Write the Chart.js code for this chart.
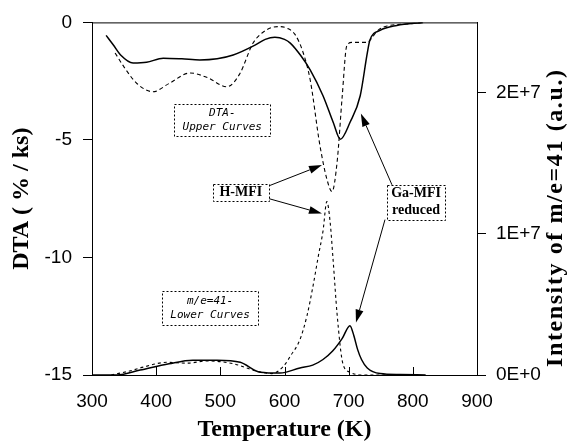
<!DOCTYPE html>
<html>
<head>
<meta charset="utf-8">
<script src="https://cdn.jsdelivr.net/npm/chart.js@4"></script>
<style>
  body { margin: 0; background: #fff; }
</style>
</head>
<body>
<canvas id="dtaChart" width="575" height="442"></canvas>
<script>
// DTA curves (left axis, % / ks)
const dtaGaTemp = [322, 333, 345, 364, 385, 411, 440, 468, 495, 520, 554, 570, 585, 600, 609, 625, 640, 660, 676, 687, 702, 718, 729, 733, 749, 775, 816];
const dtaGaVal = [-0.55, -0.95, -1.4, -1.73, -1.7, -1.52, -1.55, -1.6, -1.55, -1.39, -0.97, -0.72, -0.63, -0.72, -0.88, -1.4, -2.02, -3.12, -4.26, -4.97, -4.26, -3.12, -1.31, -0.76, -0.34, -0.13, 0.0];

const dtaHTemp = [336, 350, 370, 395, 420, 453, 480, 510, 530, 551, 565, 580, 592, 605, 616, 628, 640, 655, 666, 674, 682, 690, 697, 705, 729, 736, 744, 760, 790, 816];
const dtaHVal = [-1.3, -1.9, -2.6, -2.95, -2.6, -2.15, -2.35, -2.74, -2.2, -0.88, -0.45, -0.22, -0.18, -0.26, -0.5, -1.2, -2.44, -5.2, -6.66, -7.2, -5.94, -3.12, -1.0, -0.85, -0.85, -0.67, -0.38, -0.15, -0.07, 0.0];

// m/e=41 intensity (right axis, a.u.)
const msGaTemp = [300, 339, 375, 420, 457, 495, 531, 562, 593, 624, 644, 660, 675, 690, 702, 708, 714, 720, 729, 749, 780, 820];
const msGaVal = [0, 0, 3.5e5, 8e5, 1.05e6, 1.05e6, 9e5, 2e5, 1.4e5, 5e5, 7e5, 1.1e6, 1.7e6, 2.6e6, 3.5e6, 2.8e6, 1.8e6, 1.1e6, 5e5, 1e5, 3e4, 0];

const msHTemp = [330, 360, 380, 417, 448, 480, 520, 555, 580, 598, 610, 624, 635, 644, 653, 660, 666, 671, 676, 682, 691, 702, 720, 760];
const msHVal = [0, 3e5, 5.6e5, 9e5, 8.4e5, 1e6, 8e5, 3e5, 1e5, 6e5, 1.4e6, 2.5e6, 4.2e6, 6.2e6, 8.5e6, 1.02e7, 1.23e7, 1.09e7, 8e6, 4.3e6, 8e5, 2e5, 0, 0];

const xTicks = [300, 400, 500, 600, 700, 800, 900];
const leftTicks = [-15, -10, -5, 0];
const rightTicks = [0, 1e7, 2e7];

function pts(ts, vs) { return ts.map((t, i) => ({x: t, y: vs[i]})); }

const tickFont = {family: '"Liberation Sans", Arial, sans-serif', size: 19};
const titleFont = {family: '"Liberation Serif", "Times New Roman", serif', size: 24, weight: 'bold', lineHeight: 1};

// text boxes and arrows, placed in data units (temperature, DTA value)
const boxNotes = [
  {t: 503, v: -4.17, w: 96, h: 32, lines: ['DTA-', 'Upper Curves'], font: 'italic 11px "DejaVu Sans Mono"', lh: 14},
  {t: 484, v: -12.14, w: 96, h: 34, lines: ['m/e=41-', 'Lower Curves'], font: 'italic 11px "DejaVu Sans Mono"', lh: 14},
  {t: 532, v: -7.23, w: 56, h: 17, lines: ['H-MFI'], font: 'bold 14px "Liberation Serif"', lh: 16},
  {t: 805, v: -7.65, w: 58, h: 35, lines: ['Ga-MFI', 'reduced'], font: 'bold 14px "Liberation Serif"', lh: 17}
];
const arrowNotes = [
  [576, -6.95, 658.4, -6.07],
  [576, -7.5, 658.4, -8.13],
  [767.5, -6.91, 719, -3.88],
  [756.6, -8.39, 711.4, -12.77]
];

const notesPlugin = {
  id: 'notes',
  afterDraw(chart) {
    const {ctx, chartArea: a} = chart;
    const x = chart.scales.x, y = chart.scales.y;
    ctx.save();
    ctx.strokeStyle = '#000';
    ctx.fillStyle = '#000';
    ctx.lineWidth = 1;
    // top frame
    ctx.beginPath();
    ctx.moveTo(a.left, a.top + 0.5);
    ctx.lineTo(a.right, a.top + 0.5);
    ctx.stroke();
    // x ticks point inwards
    xTicks.forEach(t => {
      const px = Math.round(x.getPixelForValue(t)) + 0.5;
      ctx.beginPath();
      ctx.moveTo(px, a.bottom);
      ctx.lineTo(px, a.bottom - 8);
      ctx.stroke();
    });
    // boxes
    boxNotes.forEach(b => {
      const cx = x.getPixelForValue(b.t), cy = y.getPixelForValue(b.v);
      const l = Math.round(cx - b.w / 2) + 0.5, tp = Math.round(cy - b.h / 2) + 0.5;
      ctx.setLineDash([2, 2]);
      ctx.strokeRect(l, tp, b.w, b.h);
      ctx.setLineDash([]);
      ctx.font = b.font;
      ctx.textAlign = 'center';
      ctx.textBaseline = 'middle';
      const y0 = cy - (b.lines.length - 1) * b.lh / 2;
      b.lines.forEach((s, i) => ctx.fillText(s, cx, y0 + i * b.lh));
    });
    // arrows
    arrowNotes.forEach(([t0, v0, t1, v1]) => {
      const x0 = x.getPixelForValue(t0), y0 = y.getPixelForValue(v0);
      const x1 = x.getPixelForValue(t1), y1 = y.getPixelForValue(v1);
      const ang = Math.atan2(y1 - y0, x1 - x0);
      const hl = 13, hw = 4;
      ctx.beginPath();
      ctx.moveTo(x0, y0);
      ctx.lineTo(x1 - hl * Math.cos(ang), y1 - hl * Math.sin(ang));
      ctx.stroke();
      ctx.beginPath();
      ctx.moveTo(x1, y1);
      ctx.lineTo(x1 - hl * Math.cos(ang) + hw * Math.sin(ang), y1 - hl * Math.sin(ang) - hw * Math.cos(ang));
      ctx.lineTo(x1 - hl * Math.cos(ang) - hw * Math.sin(ang), y1 - hl * Math.sin(ang) + hw * Math.cos(ang));
      ctx.closePath();
      ctx.fill();
    });
    // right axis title, reads bottom to top, spaced out a little like the original
    const r = chart.scales.y2;
    ctx.translate(r.right - 19, (a.top + a.bottom) / 2 + 19);
    ctx.rotate(-Math.PI / 2);
    ctx.font = 'bold 24px "Liberation Serif"';
    ctx.letterSpacing = '1.6px';
    ctx.textAlign = 'center';
    ctx.textBaseline = 'middle';
    ctx.fillText('Intensity of m/e=41 (a.u.)', 0, 0);
    ctx.restore();
  }
};

const lineBase = {
  borderColor: '#000',
  pointRadius: 0,
  fill: false,
  cubicInterpolationMode: 'monotone'
};

new Chart(document.getElementById('dtaChart'), {
  type: 'line',
  data: {
    datasets: [
      Object.assign({label: 'DTA Ga-MFI reduced', data: pts(dtaGaTemp, dtaGaVal), yAxisID: 'y', borderWidth: 1.5}, lineBase),
      Object.assign({label: 'DTA H-MFI', data: pts(dtaHTemp, dtaHVal), yAxisID: 'y', borderWidth: 1.1, borderDash: [4, 3]}, lineBase),
      Object.assign({label: 'm/e=41 Ga-MFI reduced', data: pts(msGaTemp, msGaVal), yAxisID: 'y2', borderWidth: 1.5}, lineBase),
      Object.assign({label: 'm/e=41 H-MFI', data: pts(msHTemp, msHVal), yAxisID: 'y2', borderWidth: 1.1, borderDash: [3, 3]}, lineBase)
    ]
  },
  options: {
    responsive: false,
    animation: false,
    layout: {padding: {top: 19, left: 0, right: 0, bottom: 0}},
    plugins: {legend: {display: false}, tooltip: {enabled: false}},
    scales: {
      x: {
        type: 'linear', min: 300, max: 900,
        afterBuildTicks: s => { s.ticks = xTicks.map(v => ({value: v})); },
        afterFit: s => { s.height = 67; },
        grid: {display: true, drawOnChartArea: false, drawTicks: false},
        border: {color: '#000', width: 1},
        ticks: {color: '#000', font: tickFont, padding: 15, maxRotation: 0},
        title: {display: true, text: 'Temperature (K)', color: '#000', font: titleFont, padding: {top: 0, bottom: 0}}
      },
      y: {
        position: 'left', min: -15, max: 0,
        afterBuildTicks: s => { s.ticks = leftTicks.map(v => ({value: v})); },
        afterFit: s => { s.width = 92; },
        grid: {display: true, drawOnChartArea: false, drawTicks: true, tickLength: 9, color: '#000'},
        border: {color: '#000', width: 1},
        ticks: {color: '#000', font: tickFont, padding: 11},
        title: {display: true, text: 'DTA ( % / ks)', color: '#000', font: titleFont, padding: {top: 10, bottom: 0}}
      },
      y2: {
        position: 'right', min: 0, max: 2.5e7,
        afterBuildTicks: s => { s.ticks = rightTicks.map(v => ({value: v})); },
        afterFit: s => { s.width = 98; },
        grid: {display: true, drawOnChartArea: false, drawTicks: true, tickLength: 9, color: '#000'},
        border: {color: '#000', width: 1},
        ticks: {color: '#000', font: tickFont, padding: 10, callback: v => v.toExponential(0).toUpperCase()},
        title: {display: false}
      }
    }
  },
  plugins: [notesPlugin]
});
</script>
</body>
</html>
